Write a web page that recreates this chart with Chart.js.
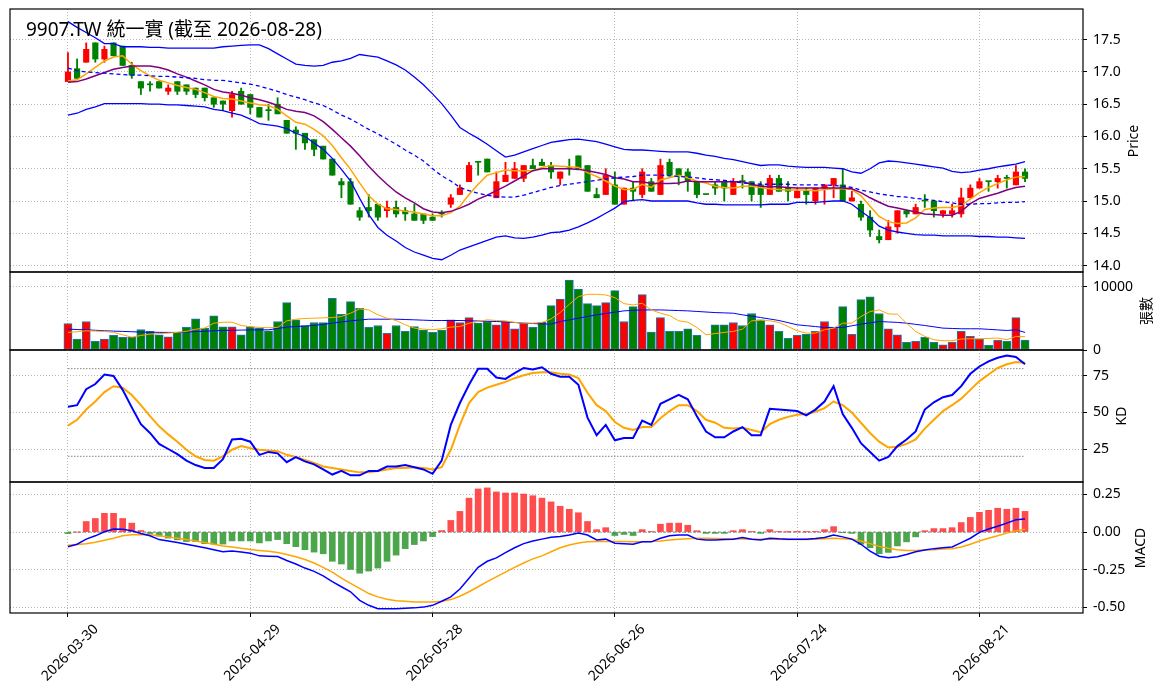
<!DOCTYPE html>
<html>
<head>
<meta charset="utf-8">
<title>9907.TW 統一實</title>
<script src="https://cdn.jsdelivr.net/npm/chart.js@4.4.1/dist/chart.umd.min.js"></script>
<style>
  body { margin: 0; background: #fff; width: 1163px; height: 698px; overflow: hidden; position: relative;
         font-family: "Noto Sans", "Noto Sans CJK TC", sans-serif; color: #000; }
  canvas { position: absolute; left: 0; }
  .title { position: absolute; left: 26px; top: 20px; font-size: 19px; line-height: 19px; white-space: nowrap; }
  .ylab { position: absolute; font-size: 14px; line-height: 14px; white-space: nowrap;
          transform: translate(-50%, -50%) rotate(-90deg); }
</style>
</head>
<body>
<canvas id="price" width="1163" height="273" style="top:0px"></canvas>
<canvas id="volume" width="1163" height="90" style="top:271px"></canvas>
<canvas id="kd" width="1163" height="134" style="top:349px"></canvas>
<canvas id="macd" width="1163" height="217" style="top:481px"></canvas>

<div class="title">9907.TW 統一實 (截至 2026-08-28)</div>
<div class="ylab" style="left:1133px; top:141px">Price</div>
<div class="ylab" style="left:1146px; top:311px">張數</div>
<div class="ylab" style="left:1121px; top:416px">KD</div>
<div class="ylab" style="left:1140px; top:548px">MACD</div>

<script>
// ---- data ----
const dates = [
  "2026-03-30","2026-03-31","2026-04-01","2026-04-02","2026-04-07","2026-04-08","2026-04-09","2026-04-10",
  "2026-04-13","2026-04-14","2026-04-15","2026-04-16","2026-04-17","2026-04-20","2026-04-21","2026-04-22",
  "2026-04-23","2026-04-24","2026-04-27","2026-04-28","2026-04-29","2026-04-30","2026-05-04","2026-05-05",
  "2026-05-06","2026-05-07","2026-05-08","2026-05-11","2026-05-12","2026-05-13","2026-05-14","2026-05-15",
  "2026-05-18","2026-05-19","2026-05-20","2026-05-21","2026-05-22","2026-05-25","2026-05-26","2026-05-27",
  "2026-05-28","2026-05-29","2026-06-01","2026-06-02","2026-06-03","2026-06-04","2026-06-05","2026-06-08",
  "2026-06-09","2026-06-10","2026-06-11","2026-06-12","2026-06-15","2026-06-16","2026-06-17","2026-06-18",
  "2026-06-22","2026-06-23","2026-06-24","2026-06-25","2026-06-26","2026-06-29","2026-06-30","2026-07-01",
  "2026-07-02","2026-07-03","2026-07-06","2026-07-07","2026-07-08","2026-07-09","2026-07-10","2026-07-13",
  "2026-07-14","2026-07-15","2026-07-16","2026-07-17","2026-07-20","2026-07-21","2026-07-22","2026-07-23",
  "2026-07-24","2026-07-27","2026-07-28","2026-07-29","2026-07-30","2026-07-31","2026-08-03","2026-08-04",
  "2026-08-05","2026-08-06","2026-08-07","2026-08-10","2026-08-11","2026-08-12","2026-08-13","2026-08-14",
  "2026-08-17","2026-08-18","2026-08-19","2026-08-20","2026-08-21","2026-08-24","2026-08-25","2026-08-26",
  "2026-08-27","2026-08-28"
];
const tickIndex = [0, 20, 40, 60, 80, 100];

const opens = [
  16.85,17.05,17.15,17.45,17.2,17.45,17.4,17.1,16.85,16.8,16.85,16.7,16.85,16.8,16.75,16.75,16.6,16.55,16.4,16.7,
  16.65,16.45,16.4,16.5,16.25,16.1,16.05,15.95,15.85,15.65,15.3,15.3,14.85,14.9,14.95,14.85,14.9,14.85,14.8,14.8,
  14.75,14.8,14.95,15.1,15.3,15.6,15.65,15.05,15.3,15.35,15.35,15.55,15.6,15.55,15.35,15.5,15.7,15.55,15.1,15.1,
  15.25,14.95,15.2,15.1,15.3,15.1,15.6,15.5,15.45,15.3,15.1,15.25,15.3,15.1,15.3,15.3,15.25,15.1,15.35,15.2,
  15.05,15.15,15.0,15.2,15.25,15.25,15.0,14.95,14.75,14.45,14.4,14.6,14.85,14.8,15.0,15.0,14.8,14.8,14.8,15.05,
  15.2,15.3,15.3,15.35,15.25,15.45
];
const highs = [
  17.3,17.2,17.45,17.45,17.4,17.45,17.4,17.15,16.85,16.85,16.85,16.8,16.85,16.8,16.75,16.75,16.6,16.55,16.7,16.75,
  16.65,16.45,16.5,16.6,16.25,16.15,16.05,15.95,15.85,15.65,15.35,15.35,14.9,15.1,14.95,15.0,15.0,14.9,14.95,14.8,
  14.8,14.85,15.1,15.25,15.6,15.6,15.65,15.45,15.6,15.6,15.55,15.65,15.65,15.6,15.45,15.65,15.7,15.55,15.2,15.5,
  15.45,15.2,15.3,15.5,15.35,15.65,15.65,15.5,15.5,15.3,15.1,15.3,15.3,15.35,15.4,15.3,15.3,15.4,15.4,15.3,
  15.2,15.2,15.2,15.25,15.35,15.5,15.15,15.0,14.85,14.55,14.7,14.85,14.85,14.95,15.1,15.0,14.85,14.95,15.2,15.25,
  15.35,15.3,15.4,15.4,15.55,15.5
];
const lows = [
  16.85,16.9,17.15,17.15,17.15,17.25,17.1,16.9,16.65,16.7,16.75,16.65,16.65,16.65,16.6,16.55,16.45,16.4,16.3,16.5,
  16.35,16.3,16.25,16.35,16.05,15.8,15.8,15.7,15.65,15.4,15.05,14.95,14.7,14.75,14.7,14.75,14.75,14.7,14.7,14.65,
  14.7,14.75,14.9,15.1,15.3,15.4,15.45,15.05,15.3,15.35,15.3,15.5,15.55,15.35,15.25,15.4,15.5,15.15,15.05,15.1,
  14.95,14.95,15.0,15.05,15.15,15.1,15.4,15.25,15.15,15.05,15.1,15.1,15.0,15.1,15.2,15.0,14.9,15.1,15.15,15.0,
  15.05,14.95,14.95,14.95,15.05,15.0,15.0,14.7,14.45,14.35,14.4,14.5,14.75,14.8,14.9,14.75,14.75,14.75,14.75,15.05,
  15.2,15.15,15.2,15.2,15.25,15.3
];
const closes = [
  17.0,16.9,17.35,17.2,17.35,17.25,17.1,16.95,16.75,16.8,16.75,16.75,16.7,16.7,16.65,16.6,16.5,16.5,16.65,16.5,
  16.45,16.3,16.4,16.35,16.05,16.05,15.9,15.8,15.65,15.4,15.25,14.95,14.75,14.85,14.75,14.9,14.8,14.8,14.7,14.7,
  14.7,14.8,15.05,15.2,15.55,15.6,15.45,15.3,15.4,15.5,15.55,15.5,15.55,15.45,15.45,15.5,15.5,15.15,15.05,15.4,
  14.95,15.2,15.15,15.45,15.15,15.55,15.4,15.4,15.3,15.1,15.1,15.2,15.2,15.3,15.3,15.1,15.1,15.35,15.15,15.15,
  15.15,15.1,15.2,15.25,15.35,15.0,15.05,14.75,14.55,14.4,14.6,14.85,14.8,14.9,15.0,14.85,14.85,14.85,15.05,15.2,
  15.3,15.3,15.35,15.35,15.45,15.35
];
const ma5 = [
  16.86,16.88,16.97,17.07,17.17,17.23,17.25,17.12,17.02,16.94,16.87,16.83,16.79,16.76,16.73,16.68,16.62,16.59,16.58,16.55,
  16.52,16.49,16.48,16.42,16.32,16.22,16.19,16.11,16.01,15.86,15.67,15.49,15.28,15.08,14.95,14.88,14.87,14.84,14.83,14.8,
  14.77,14.77,14.82,14.92,15.1,15.26,15.4,15.44,15.48,15.47,15.47,15.47,15.52,15.55,15.54,15.53,15.52,15.44,15.38,15.31,
  15.23,15.18,15.18,15.26,15.21,15.33,15.36,15.4,15.36,15.31,15.28,15.23,15.21,15.2,15.23,15.23,15.21,15.19,15.18,15.17,
  15.17,15.17,15.16,15.18,15.19,15.19,15.18,15.08,14.92,14.76,14.68,14.65,14.66,14.74,14.87,14.89,14.9,14.9,14.93,15.03,
  15.13,15.21,15.27,15.33,15.37,15.38
];
const ma10 = [
  16.84,16.85,16.89,16.94,16.99,17.04,17.07,17.09,17.09,17.09,17.07,17.03,16.97,16.92,16.86,16.8,16.73,16.69,16.67,16.64,
  16.6,16.57,16.53,16.48,16.42,16.39,16.37,16.32,16.23,16.11,15.98,15.85,15.7,15.54,15.39,15.26,15.14,15.05,14.97,14.88,
  14.83,14.82,14.84,14.89,14.95,15.03,15.09,15.16,15.23,15.31,15.39,15.47,15.5,15.5,15.5,15.5,15.49,15.47,15.44,15.41,
  15.36,15.34,15.3,15.3,15.27,15.27,15.27,15.28,15.31,15.3,15.3,15.3,15.3,15.3,15.3,15.26,15.23,15.22,15.22,15.21,
  15.2,15.2,15.2,15.2,15.2,15.2,15.19,15.13,15.05,14.98,14.92,14.89,14.86,14.83,14.8,14.79,14.78,14.78,14.84,14.96,
  15.04,15.08,15.12,15.17,15.21,15.23
];
const bbMid = [
  17.06,17.02,17.0,16.99,16.98,16.97,16.96,16.95,16.95,16.94,16.93,16.93,16.92,16.91,16.9,16.88,16.87,16.87,16.85,16.83,
  16.81,16.78,16.74,16.7,16.65,16.61,16.57,16.52,16.48,16.41,16.33,16.27,16.19,16.11,16.04,15.96,15.88,15.79,15.71,15.62,
  15.5,15.39,15.31,15.21,15.16,15.12,15.09,15.07,15.06,15.06,15.09,15.13,15.17,15.21,15.24,15.26,15.28,15.3,15.32,15.34,
  15.36,15.37,15.38,15.4,15.4,15.4,15.39,15.38,15.37,15.36,15.34,15.33,15.32,15.3,15.28,15.27,15.26,15.26,15.26,15.26,
  15.25,15.25,15.25,15.25,15.24,15.23,15.21,15.17,15.14,15.11,15.09,15.07,15.06,15.04,15.03,15.01,14.99,14.97,14.95,14.95,
  14.96,14.96,14.97,14.98,14.98,14.99
];
const bbUpper = [
  17.78,17.69,17.61,17.53,17.44,17.44,17.39,17.39,17.39,17.38,17.38,17.37,17.37,17.37,17.37,17.37,17.37,17.39,17.4,17.41,
  17.42,17.42,17.36,17.28,17.2,17.12,17.1,17.09,17.1,17.15,17.17,17.21,17.27,17.25,17.23,17.17,17.11,17.03,16.92,16.8,
  16.66,16.51,16.33,16.14,16.05,15.97,15.88,15.78,15.68,15.71,15.76,15.81,15.86,15.91,15.93,15.95,15.96,15.94,15.92,15.88,
  15.84,15.8,15.79,15.79,15.78,15.77,15.76,15.76,15.76,15.74,15.71,15.69,15.66,15.64,15.61,15.58,15.55,15.56,15.56,15.54,
  15.53,15.52,15.52,15.52,15.51,15.5,15.45,15.43,15.5,15.59,15.62,15.61,15.59,15.57,15.55,15.53,15.51,15.46,15.44,15.45,
  15.48,15.5,15.53,15.55,15.57,15.61
];
const bbLower = [
  16.33,16.36,16.42,16.46,16.51,16.51,16.51,16.51,16.51,16.5,16.5,16.49,16.49,16.48,16.47,16.46,16.42,16.4,16.36,16.33,
  16.27,16.2,16.18,16.16,16.12,16.05,16.0,15.9,15.8,15.66,15.49,15.31,15.04,14.79,14.59,14.47,14.38,14.28,14.21,14.16,
  14.11,14.09,14.16,14.24,14.29,14.34,14.39,14.44,14.46,14.43,14.42,14.44,14.47,14.51,14.52,14.55,14.6,14.66,14.73,14.81,
  14.89,14.99,15.01,15.02,15.0,15.0,15.0,15.0,15.0,14.97,14.95,14.95,14.94,14.94,14.94,14.94,14.94,14.95,14.95,14.95,
  14.98,14.98,14.98,14.99,15.0,15.0,14.95,14.84,14.74,14.61,14.55,14.52,14.5,14.48,14.47,14.47,14.46,14.46,14.46,14.46,
  14.45,14.45,14.44,14.44,14.43,14.42
];
const volumes = [
  4210,1740,4520,1370,1740,2310,2000,2000,3260,2950,2420,2100,2790,3580,4940,3470,5420,3680,3680,2420,
  3680,3470,3050,4520,7520,4790,3890,4370,4370,8210,5680,7680,6630,3580,3890,2630,3890,2950,3730,3160,
  2790,3160,4790,4370,5150,4260,4520,4000,4520,3370,4260,3580,4420,7050,8100,11100,9680,7360,7050,7520,
  9420,4520,6890,8780,2840,5150,2950,2950,3370,2310,0,4000,4000,4370,3890,5790,4790,4000,2950,1840,
  2310,2470,2950,4520,3470,6890,2470,8000,8420,5790,3370,2420,1210,1370,2000,1210,840,1210,2950,2160,
  1740,740,1530,1370,5150,1580
];
const volMa5 = [
  2790,2900,3050,3000,2950,2800,2400,2050,2300,2520,2600,2680,2800,2950,3300,3470,4260,4400,4420,3890,
  3700,3580,3550,3580,4630,4890,5000,5050,5100,5150,5310,5840,6520,6360,5580,5050,4680,4000,3470,3310,
  3210,3370,3630,3730,4260,4520,4790,4680,4630,4370,4260,4260,4370,4940,5940,7260,8470,8840,8840,8730,
  8310,7360,7150,7420,6360,5840,5470,4630,4420,3580,2420,2600,2790,2950,3310,4630,4730,4630,4370,3730,
  3050,2680,2680,3210,3470,4260,4260,5310,6100,6360,5730,5680,4260,2950,2160,1630,1470,1470,1740,1790,
  1790,1840,1890,1630,2160,2110
];
const volMa20 = [
  3310,3250,3200,3130,3050,3000,2950,2900,2840,2820,2800,2790,2790,2850,2920,2980,3050,3100,3130,3160,
  3180,3200,3210,3400,3630,3720,3800,3890,4080,4260,4450,4630,4760,4890,4890,4890,4890,4840,4790,4730,
  4680,4680,4680,4680,4640,4600,4560,4520,4450,4370,4260,4200,4150,4100,4520,4780,5050,5320,5580,5790,
  6000,6210,6290,6360,6360,6360,6310,6260,6210,6120,6030,5940,5890,5840,5580,5370,5150,4920,4680,4340,
  4000,3860,3720,3580,3580,3580,3840,4100,4310,4520,4450,4380,4260,4070,3890,3680,3470,3420,3370,3370,
  3370,3280,3190,3100,3210,2790
];
const kValues = [
  54,55,66,69.5,76,75,65.5,53.5,42,36,28.5,25,21.5,17,14,12,12,18,31.5,32,
  30,21,23,22,16,19.5,16.5,14.5,11,7.5,10,7,7,10,10,13,13,14,12.5,11,
  8,17,41.5,56.5,69,80,80,74,73,77,80.5,79.5,81,76.5,74.5,74.5,69,46.5,34.5,41.5,
  31,32.5,32.5,44.5,41.5,56,59,62,59,47.5,37,33,33,37,40,34.5,34.5,52.5,52,51.5,
  51,48,52,57.5,68,49,39.5,29,23,17,19.5,27,31.5,37,52,57,60.5,62,68,76.5,
  81.5,85,87.5,89,88,83
];
const dValues = [
  41,45,52,57.5,64,68,67,62,55,47.5,40.5,35,30,24.5,20,17.5,17,20,24.5,27,
  25.5,24.5,24,23.5,21,19.5,17.5,15.5,13,12,11,10,9,9,10,11,12,12,12.5,12,
  11,12.5,24.5,41.5,56.5,64,67,69,71,73.5,75.5,77,77.5,77.5,76.5,76,73.5,63.5,55,51,
  43.5,39.5,38,40,40,46,51,55,55,51,45,43,39.5,39,39.5,38,36.5,42,45,47,
  48.5,49,50.5,53,57.5,55,50,43,36,30,26,26.5,28.5,31.5,39,45,51,55,59.5,65.5,
  71.5,76,80.5,83,84.5,84
];
const kdLevels = [80, 20];
const macdDif = [
  -0.097,-0.081,-0.047,-0.025,0.002,0.02,0.018,0.009,-0.009,-0.025,-0.05,-0.059,-0.07,-0.081,-0.092,-0.104,-0.117,-0.131,-0.126,-0.133,
  -0.14,-0.158,-0.16,-0.162,-0.189,-0.212,-0.239,-0.261,-0.291,-0.329,-0.363,-0.396,-0.453,-0.486,-0.509,-0.509,-0.509,-0.505,-0.503,-0.498,
  -0.486,-0.459,-0.43,-0.378,-0.306,-0.234,-0.194,-0.171,-0.137,-0.104,-0.077,-0.059,-0.047,-0.035,-0.029,-0.02,-0.007,-0.02,-0.052,-0.047,
  -0.074,-0.077,-0.081,-0.065,-0.065,-0.041,-0.025,-0.02,-0.02,-0.047,-0.052,-0.052,-0.05,-0.047,-0.036,-0.047,-0.052,-0.041,-0.045,-0.047,
  -0.047,-0.047,-0.043,-0.036,-0.02,-0.032,-0.047,-0.081,-0.126,-0.16,-0.171,-0.164,-0.149,-0.131,-0.119,-0.11,-0.104,-0.099,-0.07,-0.041,
  -0.002,0.02,0.038,0.059,0.081,0.086
];
const macdSignal = [
  -0.088,-0.083,-0.077,-0.068,-0.054,-0.041,-0.025,-0.018,-0.016,-0.018,-0.025,-0.032,-0.041,-0.05,-0.059,-0.07,-0.081,-0.092,-0.099,-0.108,
  -0.115,-0.122,-0.128,-0.135,-0.149,-0.164,-0.182,-0.205,-0.234,-0.266,-0.306,-0.34,-0.374,-0.408,-0.43,-0.446,-0.455,-0.459,-0.464,-0.464,
  -0.464,-0.459,-0.448,-0.426,-0.396,-0.363,-0.329,-0.297,-0.266,-0.234,-0.205,-0.178,-0.158,-0.131,-0.104,-0.086,-0.072,-0.065,-0.063,-0.063,
  -0.063,-0.063,-0.065,-0.064,-0.063,-0.059,-0.053,-0.047,-0.044,-0.041,-0.041,-0.043,-0.044,-0.045,-0.046,-0.047,-0.047,-0.047,-0.048,-0.05,
  -0.05,-0.049,-0.047,-0.044,-0.041,-0.044,-0.047,-0.059,-0.077,-0.095,-0.108,-0.117,-0.122,-0.122,-0.119,-0.117,-0.113,-0.11,-0.099,-0.081,
  -0.059,-0.041,-0.025,-0.007,0.009,0.018
];
const macdHist = [
  -0.01,0,0.07,0.09,0.124,0.124,0.09,0.059,0.01,-0.01,-0.027,-0.04,-0.052,-0.063,-0.063,-0.077,-0.08,-0.08,-0.059,-0.059,
  -0.059,-0.072,-0.059,-0.05,-0.077,-0.097,-0.117,-0.133,-0.144,-0.194,-0.212,-0.248,-0.273,-0.259,-0.239,-0.194,-0.153,-0.11,-0.083,-0.059,
  -0.03,0.01,0.077,0.137,0.225,0.286,0.293,0.266,0.259,0.259,0.252,0.241,0.225,0.2,0.171,0.151,0.128,0.07,0.016,0.029,
  -0.023,-0.016,-0.023,0.016,0.002,0.052,0.059,0.059,0.045,0.009,-0.009,-0.009,-0.009,0.009,0.016,0.002,-0.009,0.016,0.002,0.001,
  0.002,0.001,0.002,0.016,0.036,-0.002,-0.009,-0.081,-0.104,-0.144,-0.135,-0.092,-0.065,-0.032,0.009,0.023,0.023,0.029,0.063,0.097,
  0.131,0.144,0.158,0.151,0.158,0.137
];

// ---- styling ----
const FONT = { family: '"Noto Sans", "Noto Sans CJK TC", sans-serif', size: 14 };
const GRID = '#b8b8b8';
const UP = '#ff0000', DOWN = '#008000';
const X_MIN = -6.36, X_MAX = 111.36;

const candleColors = closes.map((c, i) => (c > opens[i] ? UP : DOWN));
const histColors = macdHist.map(v => (v >= 0 ? 'rgba(255,0,0,0.7)' : 'rgba(0,128,0,0.7)'));

function series(values) {
  return values.map((v, i) => ({ x: i, y: v }));
}
function hline(v) {
  return [{ x: 0, y: v }, { x: dates.length - 1, y: v }];
}
function line(values, color, width, extra) {
  return Object.assign({ type: 'line', data: series(values), borderColor: color, borderWidth: width,
    pointRadius: 0, tension: 0, fill: false, order: 0 }, extra || {});
}

// no label overhang padding, so panels fill their boxes
function noPad(s) {
  s.paddingTop = 0; s.paddingBottom = 0; s.paddingLeft = 0; s.paddingRight = 0;
}

// frame round every panel
const framePlugin = {
  id: 'frame',
  afterDraw(chart) {
    const { ctx, chartArea: a } = chart;
    ctx.save();
    ctx.strokeStyle = '#000';
    ctx.lineWidth = 1.2;
    ctx.strokeRect(a.left, a.top, a.right - a.left, a.bottom - a.top);
    ctx.restore();
  }
};

function xAxis(showLabels) {
  return {
    type: 'linear', min: X_MIN, max: X_MAX, offset: false,
    afterBuildTicks: s => { s.ticks = tickIndex.map(v => ({ value: v })); },
    afterFit: s => { s.height = showLabels ? 85 : 0; noPad(s); },
    grid: { offset: false, color: GRID, lineWidth: 1, drawTicks: showLabels, tickLength: 4,
            tickColor: '#000', tickWidth: 1 },
    border: { display: false, dash: [1, 2] },
    ticks: { display: showLabels, autoSkip: false, minRotation: 45, maxRotation: 45,
             labelOffset: 28, padding: 4, font: FONT, color: '#000', callback: v => dates[v] }
  };
}

function yAxis(min, max, ticks, fmt) {
  return {
    position: 'right', min, max,
    afterBuildTicks: s => { s.ticks = ticks.map(v => ({ value: v })); },
    afterFit: s => { s.width = 80; noPad(s); },
    grid: { color: GRID, lineWidth: 1, drawTicks: true, tickLength: 4, tickColor: '#000', tickWidth: 1 },
    border: { display: false, dash: [1, 2] },
    ticks: { font: FONT, color: '#000', padding: 6, callback: fmt }
  };
}

function makeChart(id, datasets, y, showLabels, padTop, padBottom) {
  return new Chart(document.getElementById(id), {
    type: 'bar',
    data: { datasets },
    options: {
      responsive: false, animation: false, devicePixelRatio: 1,
      layout: { padding: { left: 10, right: 0, top: padTop, bottom: padBottom } },
      plugins: { legend: { display: false }, tooltip: { enabled: false } },
      scales: { x: xAxis(showLabels), y }
    },
    plugins: [framePlugin]
  });
}

// price panel: candles, moving averages, bollinger bands
makeChart('price', [
  line(bbUpper, '#0000ff', 1.3),
  line(bbLower, '#0000ff', 1.3),
  line(bbMid, '#0000ff', 1.3, { borderDash: [4, 3] }),
  line(ma10, '#800080', 1.5),
  line(ma5, '#ffa500', 1.5),
  { type: 'bar', data: opens.map((o, i) => ({ x: i, y: [lows[i], highs[i]] })), backgroundColor: candleColors,
    barThickness: 1.2, grouped: false, order: 2 },
  { type: 'bar', data: opens.map((o, i) => ({ x: i, y: [o, closes[i]] })), backgroundColor: candleColors,
    barThickness: 5.5, minBarLength: 1, grouped: false, order: 1 }
], yAxis(13.90, 17.975, [14.0, 14.5, 15.0, 15.5, 16.0, 16.5, 17.0, 17.5], v => v.toFixed(1)), false, 9, 1);

// volume panel (canvas runs a little lower so the 0 label is not cut)
makeChart('volume', [
  line(volMa5, '#ffa500', 1),
  line(volMa20, '#0000ff', 1),
  { type: 'bar', data: series(volumes), backgroundColor: candleColors, borderColor: '#1f77b4', borderWidth: 1,
    borderSkipped: false, barThickness: 8.2, grouped: false, order: 1 }
], yAxis(0, 12380, [0, 10000], v => String(v)), false, 1, 11);

// KD panel
makeChart('kd', [
  line(kValues, '#0000ff', 2),
  line(dValues, '#ffa500', 2),
  { type: 'line', data: hline(kdLevels[0]), borderColor: '#808080', borderWidth: 1, borderDash: [1.5, 1.5],
    pointRadius: 0, order: 3 },
  { type: 'line', data: hline(kdLevels[1]), borderColor: '#808080', borderWidth: 1, borderDash: [1.5, 1.5],
    pointRadius: 0, order: 3 }
], yAxis(2.4, 92.8, [25, 50, 75], v => String(v)), false, 1, 1);

// MACD panel
makeChart('macd', [
  line(macdDif, '#0000ff', 1.5),
  line(macdSignal, '#ffa500', 1.5),
  { type: 'line', data: hline(0), borderColor: '#808080', borderWidth: 1, borderDash: [3, 2],
    pointRadius: 0, order: 3 },
  { type: 'bar', data: series(macdHist), backgroundColor: histColors, barThickness: 6, grouped: false, order: 2 }
], yAxis(-0.537, 0.332, [-0.5, -0.25, 0, 0.25], v => v.toFixed(2)), true, 1, 0);
</script>
</body>
</html>
